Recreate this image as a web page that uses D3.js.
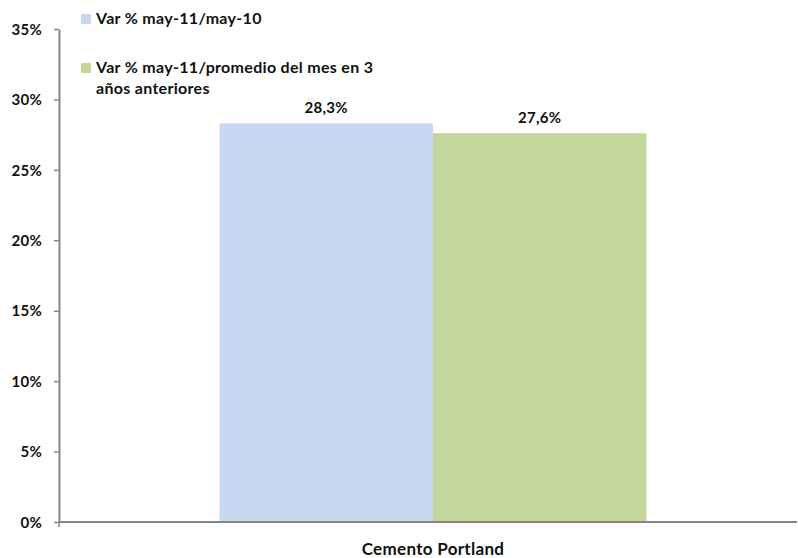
<!DOCTYPE html>
<html>
<head>
<meta charset="utf-8">
<script src="https://cdn.jsdelivr.net/npm/d3@7"></script>
<style>
  html, body { margin: 0; padding: 0; background: #fff; }
  svg text { font-family: Lato, "Open Sans", sans-serif; font-weight: bold; fill: #111; letter-spacing: 0.3px; }
</style>
</head>
<body>
<svg id="chart" width="798" height="558"></svg>
<script>
const categories = ["Cemento Portland"];
const seriesNames = ["Var % may-11/may-10", "Var % may-11/promedio del mes en 3 años anteriores"];
const seriesValues = [[28.3], [27.6]];
const seriesColors = ["#c6d9f0", "#c4d79b"];
const yTicks = [0, 5, 10, 15, 20, 25, 30, 35];

const svg = d3.select("#chart");
const plotLeft = 59, plotBottom = 522, plotTop = 29, axisRight = 797;
const fs = 15;

const y = d3.scaleLinear().domain([0, 35]).range([plotBottom, plotTop]);
const x0 = d3.scaleBand().domain(categories).range([plotLeft, 807]).paddingInner(0).paddingOuter(0.376);
const x1 = d3.scaleBand().domain(d3.range(seriesNames.length)).range([0, x0.bandwidth()]);

// bars
categories.forEach((cat, ci) => {
  seriesValues.forEach((vals, si) => {
    const v = vals[ci];
    svg.append("rect")
      .attr("x", x0(cat) + x1(si))
      .attr("y", y(v))
      .attr("width", x1.bandwidth())
      .attr("height", y(0) - y(v))
      .attr("fill", seriesColors[si]);
    svg.append("text")
      .attr("x", x0(cat) + x1(si) + x1.bandwidth() / 2)
      .attr("y", y(v) - 10)
      .attr("text-anchor", "middle")
      .attr("font-size", fs)
      .text(d3.format(".1f")(v).replace(".", ",") + "%");
  });
});

// y axis
const yAxis = svg.append("g").attr("transform", `translate(${plotLeft},0)`)
  .call(d3.axisLeft(y).tickValues(yTicks).tickFormat(d => d + "%").tickSize(5).tickSizeOuter(0));
yAxis.select(".domain").attr("stroke", "#868686").attr("stroke-width", 2);
yAxis.selectAll(".tick line").attr("stroke", "#868686").attr("stroke-width", 1.5);
yAxis.selectAll(".tick text").attr("x", -17).attr("font-size", fs).attr("dy", "0.35em")
  .attr("font-family", null).style("fill", "#111");

// x axis
svg.append("line").attr("x1", plotLeft).attr("x2", axisRight).attr("y1", plotBottom).attr("y2", plotBottom)
  .attr("stroke", "#868686").attr("stroke-width", 2);
svg.append("line").attr("x1", plotLeft).attr("x2", plotLeft).attr("y1", plotBottom).attr("y2", plotBottom + 5)
  .attr("stroke", "#868686").attr("stroke-width", 1.5);
categories.forEach(cat => {
  svg.append("text")
    .attr("x", x0(cat) + x0.bandwidth() / 2)
    .attr("y", 555)
    .attr("text-anchor", "middle")
    .attr("font-size", 17)
    .text(cat);
});

// legend
const legendRows = [
  { y: 19, lines: ["Var % may-11/may-10"] },
  { y: 68, lines: ["Var % may-11/promedio del mes en 3", "años anteriores"] }
];
legendRows.forEach((row, i) => {
  svg.append("rect").attr("x", 81).attr("y", row.y - 5).attr("width", 10).attr("height", 10)
    .attr("fill", seriesColors[i]);
  const t = svg.append("text").attr("x", 96).attr("y", row.y + 5).attr("font-size", 16);
  row.lines.forEach((ln, j) => {
    t.append("tspan").attr("x", 96).attr("dy", j === 0 ? 0 : 21).text(ln);
  });
});
</script>
</body>
</html>
